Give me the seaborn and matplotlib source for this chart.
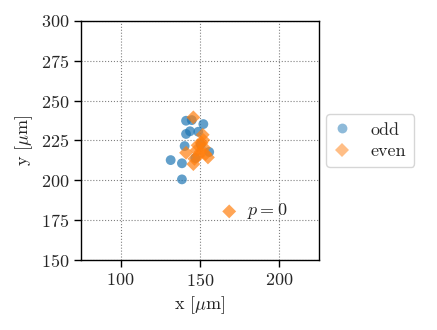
import numpy as np
import pandas as pd
import seaborn as sns
import matplotlib.pyplot as plt

# positions, in um
odd_x = [141.2, 144.8, 152.1, 143.7, 141.2, 148.9, 140.3, 131.5, 138.6, 138.6, 155.8, 147.0, 150.5]
odd_y = [237.4, 237.8, 235.3, 230.8, 229.1, 230.5, 221.5, 212.7, 210.7, 200.6, 217.8, 214.0, 222.5]
even_x = [145.8, 151.7, 152.1, 147.9, 141.2, 145.8, 155.0, 148.5, 150.5, 152.5, 149.0, 151.0, 146.5, 153.5, 168.4]
even_y = [239.5, 228.6, 225.3, 219.0, 217.3, 210.2, 214.4, 222.0, 218.0, 220.5, 215.5, 223.5, 213.5, 216.5, 180.5]
p0_label = "$p = 0$"

df = pd.DataFrame({
    "x": odd_x + even_x,
    "y": odd_y + even_y,
    "parity": ["odd"] * len(odd_x) + ["even"] * len(even_x),
})

sns.set_style("ticks")
plt.rcParams["font.family"] = "serif"
plt.rcParams["font.serif"] = ["cmr10"]
plt.rcParams["mathtext.fontset"] = "cm"
plt.rcParams["axes.formatter.use_mathtext"] = True
plt.rcParams["font.size"] = 13

fig = plt.figure(figsize=(4.37, 3.30), dpi=100)
ax = fig.add_axes([0.1854, 0.2121, 0.5446, 0.7243])

sns.scatterplot(data=df, x="x", y="y", hue="parity", style="parity",
                palette={"odd": "#1f77b4", "even": "#ff7f0e"},
                markers={"odd": "o", "even": "D"},
                s=50, alpha=0.7, linewidth=0, ax=ax)

ax.text(even_x[-1] + 11, even_y[-1], p0_label, va="center", ha="left", fontsize=13)

ax.set_xlim(75, 225)
ax.set_ylim(150, 300)
ax.set_xticks([100, 150, 200])
ax.set_yticks([150, 175, 200, 225, 250, 275, 300])
ax.grid(True, ls=":", color="gray", lw=0.8)
ax.set_axisbelow(True)
for sp in ax.spines.values():
    sp.set_color("black")
    sp.set_linewidth(1.0)
ax.tick_params(direction="out", length=5, width=1, color="black", labelsize=13)
ax.set_xlabel(r"x [$\mu$m]")
ax.set_ylabel(r"y [$\mu$m]")

leg = ax.legend(loc="center left", bbox_to_anchor=(1.03, 0.5), borderaxespad=0,
                frameon=True, fontsize=13, handlelength=0.9, handletextpad=1.1,
                borderpad=0.45, labelspacing=0.3)
leg.get_frame().set_edgecolor("#cccccc")
for h in leg.legend_handles:
    h.set_alpha(0.5)

fig.savefig("out.png", dpi=100)
